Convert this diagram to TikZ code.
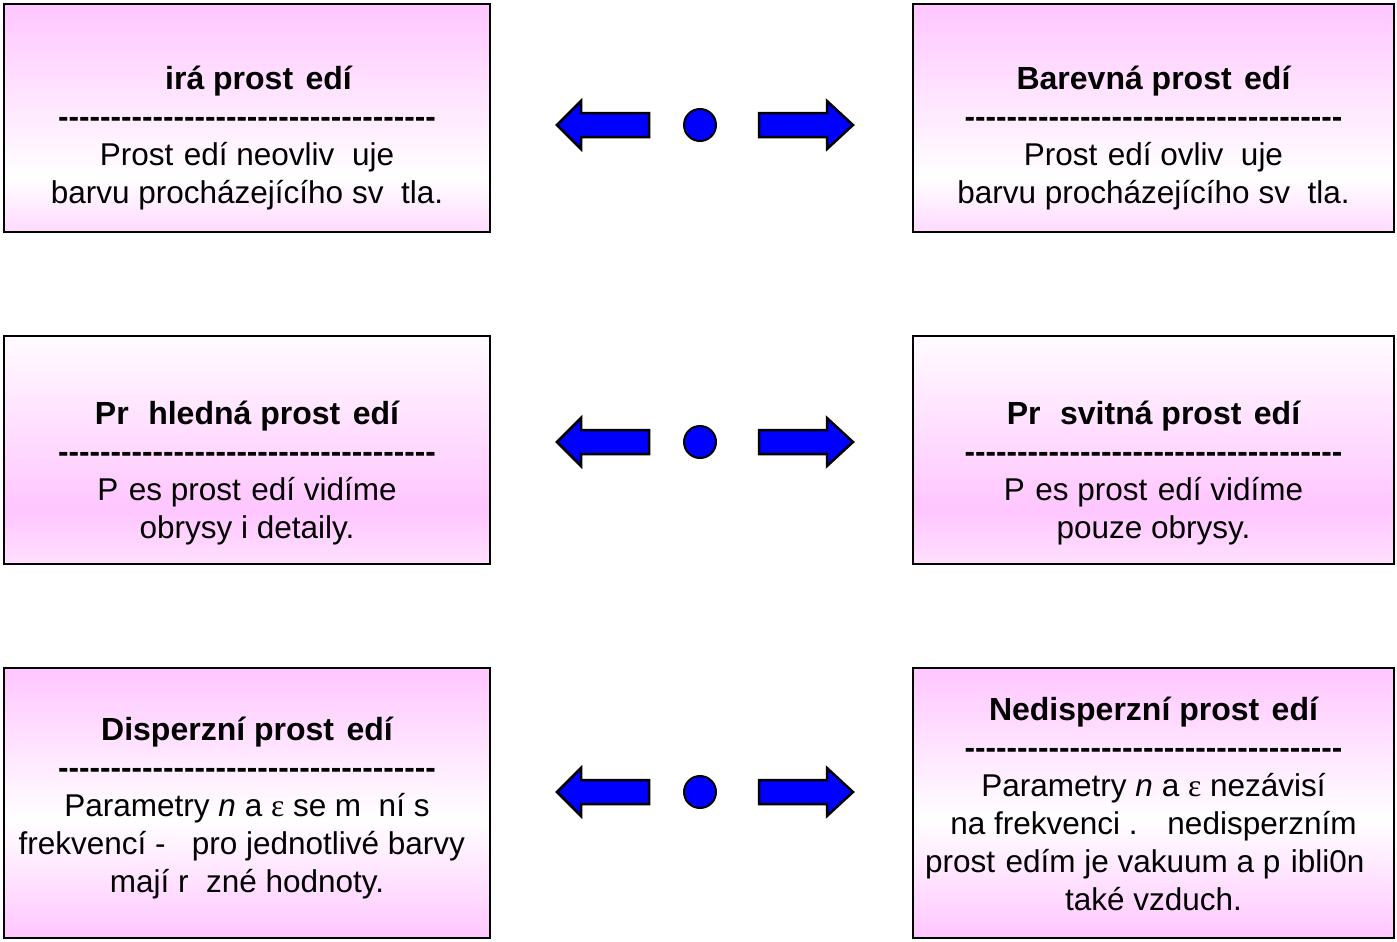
\documentclass[tikz,border=0pt]{standalone}
\usepackage{fontspec}
\setmainfont{Liberation Sans}
\newfontfamily\symfont{Liberation Serif}
\usetikzlibrary{positioning, calc}
\definecolor{cpink}{HTML}{FFC6FF}
\definecolor{cblue}{HTML}{0000FF}
% panel fills: the path box runs from 25bp (bottom) to 75bp (top)
\pgfdeclareverticalshading{panel down}{100bp}{color(0bp)=(cpink!65!white); color(25bp)=(cpink!65!white);
  color(37bp)=(white); color(75bp)=(cpink); color(100bp)=(cpink)}
\pgfdeclareverticalshading{panel up}{100bp}{color(0bp)=(cpink!55!white); color(25bp)=(cpink!55!white);
  color(37bp)=(cpink); color(75bp)=(cpink!6!white); color(100bp)=(cpink!6!white)}
\pgfdeclareverticalshading{panel mid}{100bp}{color(0bp)=(cpink); color(25bp)=(cpink);
  color(47bp)=(white); color(75bp)=(cpink); color(100bp)=(cpink)}
% a letter the font could not set: keep its width, draw nothing
\newcommand{\gap}[1]{\phantom{#1}}
\newcommand{\eps}{{\symfont ε}}
\newcommand{\dashrow}{\textbf{\foreach \i in {1,...,36}{-\kern0pt}}}
\newcommand{\heading}[1]{{\fontsize{32}{38}\selectfont\bfseries #1}}
\tikzset{
  every picture/.style={x=1pt, y=-1pt, line width=2pt},
  panel/.style={draw=black, shade, shading=#1, minimum width=486pt, inner sep=0pt},
  panetext/.style={anchor=base, align=center, inner sep=0pt, font=\fontsize{31.5}{38}\selectfont},
  dot/.style={circle, fill=cblue, draw=black, line width=2pt, minimum size=32pt, inner sep=0pt},
  blockarrow/.style={fill=cblue, draw=black, line width=2.5pt, line join=miter},
}

\begin{document}
\begin{tikzpicture}
  \useasboundingbox (0,0) rectangle (1397,942);
  % ---- row 1
  \node[panel=panel down, minimum height=228pt] (clear) at (247,118) {};
  \node[panel=panel down, minimum width=481pt, minimum height=228pt] (coloured) at (1153.5,118) {};
  \node[panetext] (clear text) at (247,203) {\heading{\gap{C}irá prost\gap{r}edí}\\ \dashrow\\
    Prost\gap{r}edí neovliv\gap{n}uje\\ barvu procházejícího sv\gap{e}tla.};
  \node[panetext] (coloured text) at (1153.5,203) {\heading{Barevná prost\gap{r}edí}\\ \dashrow\\
    Prost\gap{r}edí ovliv\gap{n}uje\\ barvu procházejícího sv\gap{e}tla.};
  % ---- row 2
  \node[panel=panel up, minimum height=228pt] (transparent) at (247,450) {};
  \node[panel=panel up, minimum width=481pt, minimum height=228pt] (translucent) at (1153.5,450) {};
  \node[panetext] (transparent text) at (247,538) {\heading{Pr\gap{u}hledná prost\gap{r}edí}\\ \dashrow\\
    P\gap{r}es prost\gap{r}edí vidíme\\ obrysy i detaily.};
  \node[panetext] (translucent text) at (1153.5,538) {\heading{Pr\gap{u}svitná prost\gap{r}edí}\\ \dashrow\\
    P\gap{r}es prost\gap{r}edí vidíme\\ pouze obrysy.};
  % ---- row 3
  \node[panel=panel mid, minimum height=270pt] (dispersive) at (247,803) {};
  \node[panel=panel mid, minimum width=481pt, minimum height=270pt] (nondispersive) at (1153.5,803) {};
  \node[panetext] (dispersive text) at (247,892) {\heading{Disperzní prost\gap{r}edí}\\ \dashrow\\
    Parametry \textit{n} a \eps{} se m\gap{e}ní s\\ frekvencí -\gap{n} pro jednotlivé barvy\gap{r}\\
    mají r\gap{u}zné hodnoty.};
  \node[panetext] (nondispersive text) at (1153.5,910) {\heading{Nedisperzní prost\gap{r}edí}\\ \dashrow\\
    Parametry \textit{n} a \eps{} nezávisí\\ na frekvenci .\gap{V} nedisperzním\\
    prost\gap{r}edím je vakuum a p\gap{r}ibli0n\gap{e}\\ také vzduch.};
  % ---- dots and block arrows between the panels
  \foreach \row/\y in {1/125, 2/442, 3/792} {
    \node[dot] (dot\row) at (700,\y) {};
    \draw[blockarrow] ($(dot\row)+(-51,-12)$) -- ++(-68,0) -- ++(0,-12) -- ++(-24,24)
      -- ++(24,24) -- ++(0,-12) -- ++(68,0) -- cycle;
    \draw[blockarrow] ($(dot\row)+(59,-12)$) -- ++(68,0) -- ++(0,-12) -- ++(26,24)
      -- ++(-26,24) -- ++(0,-12) -- ++(-68,0) -- cycle;
  }
\end{tikzpicture}
\end{document}
